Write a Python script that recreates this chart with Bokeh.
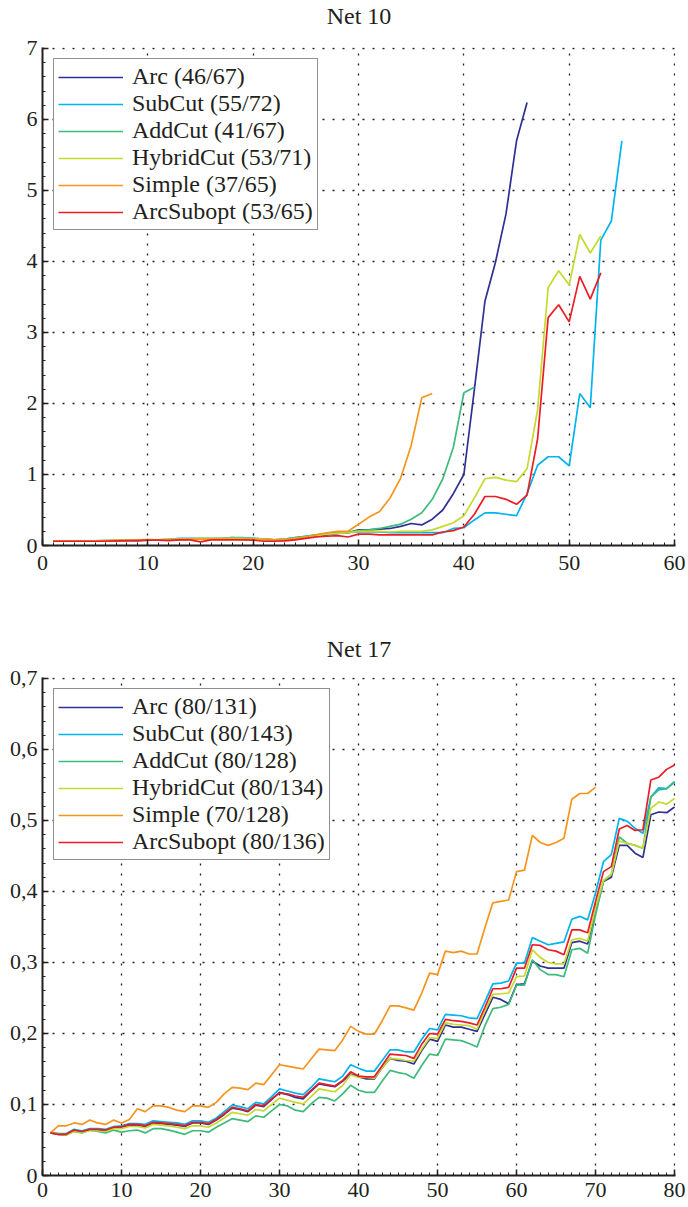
from bokeh.plotting import figure
from bokeh.layouts import column
from bokeh.models import (Range1d, SingleIntervalTicker, CustomJSTickFormatter,
                          Legend, LegendItem, Title)
from bokeh.embed import file_html
from bokeh.resources import INLINE

# ---------------- data: Net 10 ----------------
net10_title = "Net 10"
net10_labels = ["Arc (46/67)", "SubCut (55/72)", "AddCut (41/67)",
                "HybridCut (53/71)", "Simple (37/65)", "ArcSubopt (53/65)"]
net10_arc = [0.06, 0.06, 0.06, 0.06, 0.06, 0.065, 0.07, 0.07, 0.07, 0.075, 0.075, 0.08, 0.085, 0.09, 0.09,
             0.09, 0.09, 0.095, 0.09, 0.09, 0.085, 0.08, 0.08, 0.09, 0.11, 0.13, 0.15, 0.17, 0.18,
             0.22, 0.22, 0.23, 0.24, 0.27, 0.31, 0.29, 0.37, 0.50, 0.73, 1.00, 2.20, 3.44, 3.99, 4.67, 5.70, 6.24]
net10_subcut = [0.06, 0.06, 0.06, 0.065, 0.065, 0.07, 0.07, 0.075, 0.075, 0.08, 0.08, 0.085, 0.10, 0.10, 0.10,
                0.10, 0.10, 0.11, 0.11, 0.10, 0.09, 0.08, 0.09, 0.11, 0.13, 0.15, 0.16, 0.17, 0.18,
                0.19, 0.19, 0.19, 0.18, 0.18, 0.18, 0.18, 0.18, 0.18, 0.24, 0.25, 0.36, 0.46, 0.46, 0.44, 0.42,
                0.73, 1.13, 1.25, 1.25, 1.12, 2.14, 1.94, 4.30, 4.57, 5.70]
net10_addcut = [0.06, 0.06, 0.06, 0.06, 0.065, 0.07, 0.07, 0.075, 0.08, 0.08, 0.08, 0.085, 0.09, 0.09, 0.09,
                0.095, 0.10, 0.11, 0.10, 0.10, 0.09, 0.08, 0.09, 0.11, 0.13, 0.15, 0.17, 0.18, 0.19,
                0.21, 0.22, 0.24, 0.27, 0.30, 0.37, 0.46, 0.65, 0.94, 1.38, 2.15, 2.23]
net10_hybrid = [0.06, 0.06, 0.06, 0.06, 0.065, 0.07, 0.075, 0.08, 0.08, 0.085, 0.08, 0.085, 0.09, 0.095, 0.10,
                0.10, 0.10, 0.10, 0.10, 0.095, 0.09, 0.08, 0.085, 0.10, 0.12, 0.14, 0.16, 0.17, 0.18,
                0.20, 0.20, 0.20, 0.19, 0.20, 0.20, 0.20, 0.22, 0.27, 0.32, 0.42, 0.67, 0.94, 0.96, 0.92, 0.90,
                1.08, 1.91, 3.63, 3.87, 3.67, 4.38, 4.12, 4.36]
net10_simple = [0.06, 0.06, 0.06, 0.06, 0.06, 0.065, 0.07, 0.07, 0.075, 0.08, 0.08, 0.08, 0.085, 0.09, 0.09,
                0.09, 0.09, 0.09, 0.09, 0.09, 0.085, 0.08, 0.085, 0.10, 0.12, 0.15, 0.18, 0.20, 0.20,
                0.30, 0.40, 0.48, 0.67, 0.95, 1.41, 2.08, 2.14]
net10_arcsubopt = [0.06, 0.06, 0.06, 0.06, 0.06, 0.06, 0.065, 0.07, 0.07, 0.075, 0.075, 0.07, 0.08, 0.08, 0.05,
                   0.08, 0.08, 0.08, 0.08, 0.075, 0.06, 0.06, 0.065, 0.08, 0.10, 0.12, 0.13, 0.14, 0.12,
                   0.16, 0.16, 0.15, 0.15, 0.15, 0.15, 0.15, 0.15, 0.19, 0.21, 0.26, 0.44, 0.69, 0.69, 0.65, 0.58,
                   0.71, 1.50, 3.21, 3.39, 3.15, 3.79, 3.47, 3.84]

# ---------------- data: Net 17 ----------------
net17_title = "Net 17"
net17_labels = ["Arc (80/131)", "SubCut (80/143)", "AddCut (80/128)",
                "HybridCut (80/134)", "Simple (70/128)", "ArcSubopt (80/136)"]
net17_arc = [0.060, 0.058, 0.057, 0.063, 0.062, 0.065, 0.064, 0.063, 0.067, 0.068, 0.071, 0.071, 0.069, 0.074, 0.073,
             0.072, 0.071, 0.069, 0.074, 0.074, 0.072, 0.078, 0.086, 0.095, 0.093, 0.090, 0.099, 0.097, 0.107, 0.117,
             0.114, 0.110, 0.108, 0.119, 0.129, 0.127, 0.125, 0.133, 0.143, 0.139,
             0.136, 0.136, 0.152, 0.165, 0.162, 0.161, 0.157, 0.176, 0.192, 0.189, 0.212, 0.209, 0.209, 0.206, 0.203,
             0.227, 0.251, 0.248, 0.242, 0.269, 0.270, 0.302, 0.295, 0.292, 0.292, 0.292, 0.328, 0.330, 0.326, 0.372,
             0.414, 0.420, 0.465, 0.465, 0.454, 0.448, 0.508, 0.512, 0.511, 0.519]
net17_subcut = [0.060, 0.059, 0.059, 0.065, 0.063, 0.066, 0.066, 0.065, 0.069, 0.070, 0.073, 0.073, 0.072, 0.077, 0.076,
                0.075, 0.074, 0.072, 0.077, 0.077, 0.075, 0.081, 0.090, 0.099, 0.097, 0.094, 0.103, 0.101, 0.111, 0.122,
                0.119, 0.116, 0.114, 0.124, 0.136, 0.134, 0.132, 0.140, 0.156, 0.151,
                0.147, 0.147, 0.162, 0.177, 0.177, 0.174, 0.174, 0.192, 0.207, 0.205, 0.227, 0.226, 0.225, 0.222, 0.221,
                0.245, 0.270, 0.271, 0.274, 0.299, 0.299, 0.335, 0.330, 0.325, 0.327, 0.329, 0.361, 0.365, 0.360, 0.398,
                0.442, 0.452, 0.503, 0.499, 0.489, 0.482, 0.533, 0.546, 0.545, 0.554]
net17_addcut = [0.060, 0.059, 0.058, 0.062, 0.060, 0.064, 0.062, 0.060, 0.064, 0.061, 0.063, 0.064, 0.060, 0.066, 0.066,
                0.064, 0.061, 0.058, 0.063, 0.063, 0.061, 0.068, 0.074, 0.080, 0.078, 0.076, 0.084, 0.082, 0.091, 0.100,
                0.098, 0.092, 0.090, 0.101, 0.110, 0.109, 0.105, 0.115, 0.127, 0.120,
                0.117, 0.117, 0.133, 0.148, 0.145, 0.143, 0.137, 0.155, 0.171, 0.169, 0.192, 0.191, 0.190, 0.186, 0.181,
                0.211, 0.235, 0.237, 0.241, 0.268, 0.268, 0.304, 0.290, 0.283, 0.283, 0.280, 0.318, 0.320, 0.313, 0.367,
                0.414, 0.424, 0.477, 0.468, 0.465, 0.461, 0.533, 0.543, 0.545, 0.555]
net17_hybrid = [0.060, 0.058, 0.057, 0.062, 0.061, 0.063, 0.063, 0.062, 0.066, 0.066, 0.069, 0.069, 0.067, 0.072, 0.071,
                0.070, 0.068, 0.066, 0.070, 0.070, 0.068, 0.074, 0.081, 0.089, 0.087, 0.085, 0.093, 0.091, 0.100, 0.109,
                0.106, 0.103, 0.101, 0.111, 0.122, 0.120, 0.118, 0.127, 0.142, 0.138,
                0.138, 0.137, 0.152, 0.165, 0.164, 0.162, 0.161, 0.178, 0.194, 0.193, 0.215, 0.213, 0.212, 0.211, 0.206,
                0.232, 0.255, 0.256, 0.257, 0.280, 0.281, 0.318, 0.307, 0.300, 0.298, 0.298, 0.332, 0.334, 0.330, 0.377,
                0.416, 0.424, 0.471, 0.468, 0.465, 0.461, 0.517, 0.526, 0.523, 0.531]
net17_simple = [0.060, 0.070, 0.070, 0.074, 0.072, 0.078, 0.074, 0.072, 0.078, 0.074, 0.079, 0.094, 0.090, 0.098, 0.098,
                0.096, 0.092, 0.090, 0.098, 0.098, 0.096, 0.103, 0.115, 0.124, 0.123, 0.121, 0.130, 0.128, 0.142, 0.156,
                0.154, 0.152, 0.150, 0.164, 0.178, 0.177, 0.176, 0.191, 0.210, 0.203,
                0.199, 0.199, 0.218, 0.239, 0.239, 0.236, 0.233, 0.257, 0.285, 0.283, 0.316, 0.314, 0.316, 0.312, 0.312,
                0.349, 0.384, 0.386, 0.388, 0.428, 0.430, 0.479, 0.469, 0.465, 0.469, 0.475, 0.530, 0.538, 0.538, 0.547]
net17_arcsubopt = [0.060, 0.058, 0.058, 0.064, 0.062, 0.065, 0.065, 0.064, 0.068, 0.069, 0.072, 0.072, 0.070, 0.075, 0.074,
                   0.073, 0.072, 0.070, 0.075, 0.075, 0.073, 0.079, 0.087, 0.096, 0.094, 0.091, 0.100, 0.098, 0.108, 0.116,
                   0.115, 0.112, 0.110, 0.120, 0.130, 0.128, 0.126, 0.134, 0.146, 0.140,
                   0.139, 0.139, 0.155, 0.171, 0.170, 0.169, 0.165, 0.185, 0.200, 0.199, 0.220, 0.218, 0.217, 0.215, 0.212,
                   0.237, 0.263, 0.263, 0.265, 0.292, 0.292, 0.325, 0.324, 0.318, 0.316, 0.311, 0.346, 0.346, 0.342, 0.386,
                   0.428, 0.435, 0.488, 0.493, 0.486, 0.487, 0.557, 0.561, 0.572, 0.578]

colors = ["#2e3192", "#00b4ef", "#3dba7c", "#c6d92e", "#f7941d", "#ed1c24"]
SERIF = "Liberation Serif"
INK = "#231f20"


def build(title, labels, series, xmax, ymax, ystep, yfmt, height, borders, spacer_px, xstandoff):
    left, right, top, bottom = borders
    p = figure(width=688, height=height, output_backend="svg", toolbar_location=None,
               title=None,
               x_range=Range1d(0, xmax * 1.0015), y_range=Range1d(0, ymax * 1.002),
               min_border_left=left, min_border_right=right,
               min_border_top=top, min_border_bottom=bottom)
    p.outline_line_color = None
    p.background_fill_color = "white"
    p.border_fill_color = "white"

    # spacer (closest to frame) then the real title above it
    p.add_layout(Title(text=" ", text_font_size=spacer_px, standoff=0), "above")
    p.add_layout(Title(text=title, align="center", text_font=SERIF, text_font_size="24px",
                       text_font_style="normal", text_color=INK, standoff=0), "above")

    p.xaxis.ticker = SingleIntervalTicker(interval=10, num_minor_ticks=10)
    p.yaxis.ticker = SingleIntervalTicker(interval=ystep, num_minor_ticks=5)
    if yfmt:
        p.yaxis.formatter = CustomJSTickFormatter(
            code="return Math.abs(tick) < 1e-9 ? '0' : tick.toFixed(1).replace('.', ',');")
    for ax in (p.xaxis[0], p.yaxis[0]):
        ax.axis_line_width = 2
        ax.axis_line_color = INK
        ax.major_tick_in = 6
        ax.major_tick_out = 0
        ax.minor_tick_in = 3
        ax.minor_tick_out = 0
        ax.major_tick_line_color = INK
        ax.minor_tick_line_color = INK
        ax.major_tick_line_width = 1.5
        ax.major_label_text_font = SERIF
        ax.major_label_text_font_size = "22px"
        ax.major_label_text_color = INK
    p.xaxis.major_label_standoff = xstandoff
    p.yaxis.major_label_standoff = 5

    for g in (p.xgrid[0], p.ygrid[0]):
        g.grid_line_color = INK
        g.grid_line_dash = "2 8"
        g.grid_line_width = 1.3

    items = []
    for lab, ys, c in zip(labels, series, colors):
        xs = list(range(1, len(ys) + 1))
        r = p.line(xs, ys, line_color=c, line_width=1.7)
        items.append(LegendItem(label=lab, renderers=[r]))

    leg = Legend(items=items, location="top_left")
    leg.margin = 11
    leg.padding = 4
    leg.spacing = 0
    leg.glyph_width = 65
    leg.glyph_height = 24
    leg.label_height = 24
    leg.label_standoff = 9
    leg.label_text_font = SERIF
    leg.label_text_font_size = "24px"
    leg.label_text_color = INK
    leg.border_line_color = INK
    leg.border_line_width = 1.5
    leg.background_fill_color = "white"
    leg.background_fill_alpha = 1.0
    p.add_layout(leg)
    return p


p1 = build(net10_title, net10_labels,
           [net10_arc, net10_subcut, net10_addcut, net10_hybrid, net10_simple, net10_arcsubopt],
           60, 7, 1, False, 600, (40, 13, 47, 55), "15px", 10)
p2 = build(net17_title, net17_labels,
           [net17_arc, net17_subcut, net17_addcut, net17_hybrid, net17_simple, net17_arcsubopt],
           80, 0.7, 0.1, True, 607, (42, 13, 77, 32), "12px", 7)

layout = column(p1, p2, spacing=0)
open("out.html", "w").write(file_html(layout, INLINE))
